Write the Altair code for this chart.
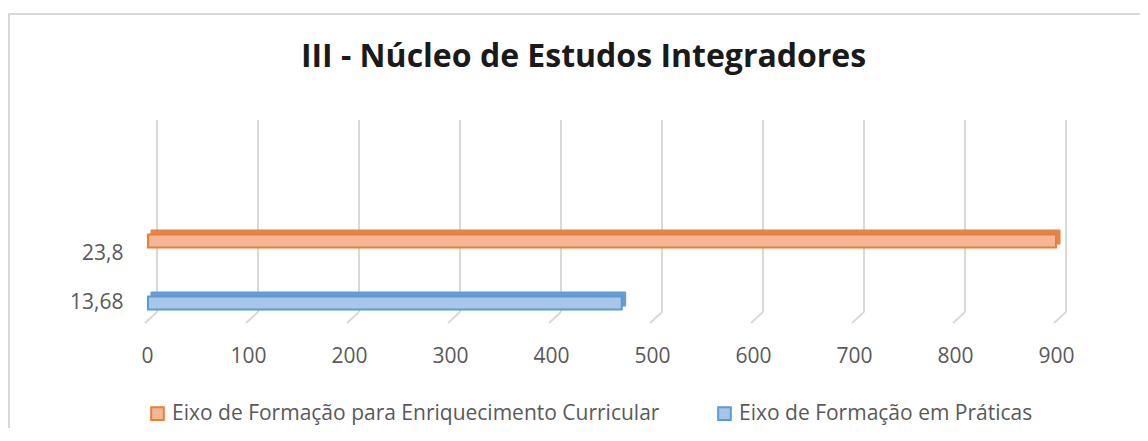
import altair as alt
import pandas as pd

# ---- data ----
categories = ["23,8", "13,68"]
series = ["Eixo de Formação para Enriquecimento Curricular", "Eixo de Formação em Práticas"]
values = [900, 470]
tick_values = [0, 100, 200, 300, 400, 500, 600, 700, 800, 900]

# ---- styles ----
face_colors = ["#F5B698", "#A8C6EA"]
edge_colors = ["#ED7D31", "#5B9BD5"]
top_colors = ["#DC8753", "#6E9BD0"]
bar_offsets = [-12, 1]
FONT = "Open Sans"
GREY = "#595959"

df = pd.DataFrame({"category": categories, "series": series, "value": values, "zero": [0, 0]})
ticks_df = pd.DataFrame({"v": tick_values})
frame_df = pd.DataFrame({"a": [0]})

x_scale = alt.Scale(domain=[0, 900], nice=False, zero=True)
x_axis = alt.Axis(values=tick_values, grid=False, domain=False, ticks=False, labelFlush=False,
                  labelPadding=22, labelFontSize=21, labelFont=FONT, labelColor=GREY,
                  title=None)
y_scale = alt.Scale(type="point", domain=categories, range=[133, 182], padding=0)
y_axis = alt.Axis(grid=False, domain=False, ticks=False, labelPadding=24,
                  labelFontSize=21, labelFont=FONT, labelColor=GREY, title=None)

legend = alt.Legend(title=None, orient="none", legendX=0, legendY=283, direction="horizontal",
                    symbolType="square", symbolSize=160, symbolStrokeWidth=2,
                    labelFont=FONT, labelFontSize=21, labelColor=GREY, labelLimit=800,
                    labelOffset=4, columnPadding=54, padding=0)

# chart frame
frame = alt.Chart(frame_df).mark_rect(fill="transparent", stroke="#D9D9D9", strokeWidth=2).encode(
    x=alt.value(-138), x2=alt.value(1300), y=alt.value(-106), y2=alt.value(700)
)

# back-plane gridlines
grid = alt.Chart(ticks_df).mark_rule(color="#D9D9D9", strokeWidth=2, xOffset=10).encode(
    x=alt.X("v:Q", scale=x_scale, axis=x_axis),
    y=alt.value(0), y2=alt.value(192),
)
# floor slants
slant = alt.Chart(ticks_df).mark_rule(color="#D9D9D9", strokeWidth=2, xOffset=10, x2Offset=-2).encode(
    x=alt.X("v:Q", scale=x_scale, axis=x_axis),
    x2="v:Q",
    y=alt.value(192), y2=alt.value(203),
)

layers = [frame, grid, slant]
for i, s in enumerate(series):
    base = alt.Chart(df).transform_filter(alt.datum.series == s)
    back = base.mark_bar(size=14, fill=top_colors[i], stroke=edge_colors[i], strokeWidth=1,
                         xOffset=4, x2Offset=4, yOffset=bar_offsets[i] - 4).encode(
        x=alt.X("zero:Q", scale=x_scale, axis=x_axis),
        x2="value:Q",
        y=alt.Y("category:N", scale=y_scale, axis=y_axis),
    )
    front = base.mark_bar(size=13, strokeWidth=2, xOffset=1, yOffset=bar_offsets[i]).encode(
        x=alt.X("zero:Q", scale=x_scale, axis=x_axis),
        x2="value:Q",
        y=alt.Y("category:N", scale=y_scale, axis=y_axis),
        fill=alt.Fill("series:N", scale=alt.Scale(domain=series, range=face_colors), legend=legend),
        stroke=alt.Stroke("series:N", scale=alt.Scale(domain=series, range=edge_colors), legend=legend),
    )
    layers += [back, front]

chart = alt.layer(*layers).properties(
    width=909,
    height=203,
    padding={"left": 139, "top": 112, "right": 84, "bottom": 105},
    autosize=alt.AutoSizeParams(type="none"),
    title=alt.TitleParams(text="III - Núcleo de Estudos Integradores", font=FONT, fontSize=32,
                          fontWeight="bold", color="#1A1A1A", anchor="middle", frame="group",
                          dx=-18, dy=93, offset=0, baseline="bottom"),
    background="white",
).configure_view(stroke=None)

chart.save("out.html", embed_options={"renderer": "svg", "actions": False})
